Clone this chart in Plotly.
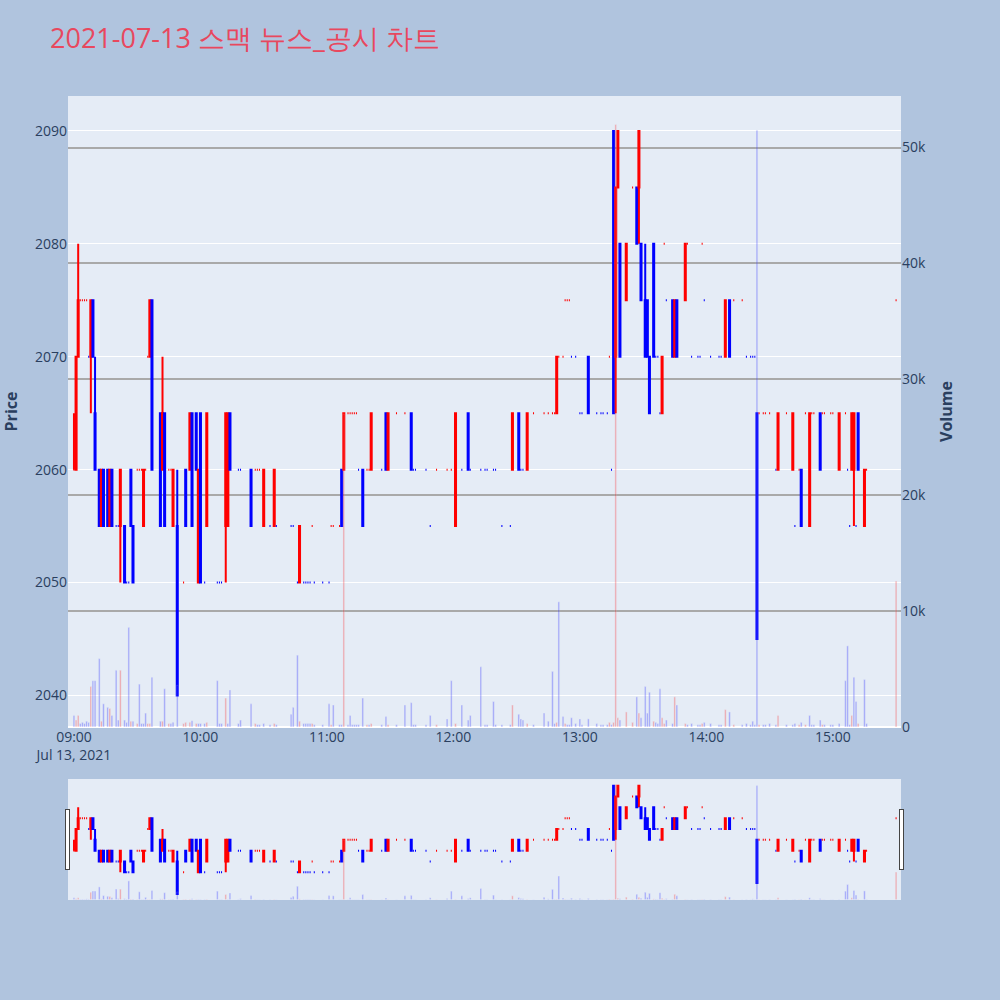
import pandas as pd
import plotly.graph_objects as go
from plotly.subplots import make_subplots

times = ["09:00","09:01","09:02","09:03","09:04","09:05","09:06","09:07","09:08","09:09",
         "09:10","09:12","09:13","09:14","09:16","09:17","09:18","09:20","09:21","09:22",
         "09:24","09:25","09:26","09:27","09:28","09:30","09:31","09:32","09:33","09:34",
         "09:35","09:36","09:37","09:41","09:42","09:43","09:45","09:46","09:47","09:49",
         "09:52","09:53","09:55","09:56","09:58","09:59","10:00","10:02","10:03","10:08",
         "10:09","10:10","10:12","10:13","10:14","10:18","10:19","10:24","10:26","10:27",
         "10:28","10:30","10:33","10:35","10:36","10:43","10:44","10:46","10:47","10:49",
         "10:50","10:51","10:52","10:53","10:54","10:58","11:01","11:02","11:03","11:06",
         "11:07","11:08","11:10","11:11","11:12","11:13","11:14","11:15","11:17","11:19",
         "11:20","11:21","11:26","11:28","11:29","11:33","11:37","11:40","11:41","11:42",
         "11:47","11:49","11:52","11:57","11:59","12:01","12:04","12:07","12:08","12:13",
         "12:15","12:16","12:19","12:20","12:23","12:27","12:28","12:31","12:32","12:33",
         "12:35","12:38","12:43","12:45","12:47","12:48","12:49","12:50","12:52","12:53",
         "12:54","12:55","12:56","12:58","13:00","13:01","13:04","13:08","13:10","13:11",
         "13:13","13:14","13:15","13:16","13:17","13:18","13:19","13:22","13:25","13:27",
         "13:28","13:29","13:31","13:32","13:33","13:35","13:36","13:37","13:38","13:39",
         "13:40","13:41","13:44","13:45","13:46","13:50","13:51","13:53","13:56","13:57",
         "13:58","13:59","14:02","14:06","14:07","14:09","14:11","14:13","14:17","14:19",
         "14:21","14:22","14:23","14:24","14:25","14:27","14:28","14:30","14:33","14:34",
         "14:38","14:41","14:42","14:44","14:45","14:47","14:49","14:50","14:51","14:54",
         "14:55","14:56","14:59","15:00","15:03","15:06","15:07","15:08","15:09","15:10",
         "15:11","15:12","15:15","15:16","15:30"]

opens = [2060,2060,2070,2075,2075,2075,2075,2070,2070,2075,
         2065,2060,2055,2060,2060,2055,2060,2055,2055,2055,
         2055,2050,2050,2060,2055,2060,2060,2060,2055,2060,
         2070,2070,2075,2065,2060,2065,2060,2060,2055,2055,
         2050,2060,2060,2065,2065,2050,2065,2050,2055,2050,
         2050,2050,2055,2055,2065,2060,2060,2060,2060,2060,
         2060,2055,2055,2055,2055,2055,2055,2050,2050,2050,
         2050,2050,2050,2055,2050,2050,2050,2055,2055,2055,
         2060,2060,2065,2065,2065,2065,2065,2060,2060,2060,
         2060,2060,2060,2065,2060,2065,2065,2065,2060,2060,
         2060,2055,2060,2060,2060,2055,2060,2065,2060,2060,
         2060,2060,2060,2060,2055,2055,2060,2065,2060,2060,
         2060,2065,2065,2065,2065,2065,2065,2070,2070,2075,
         2075,2075,2070,2070,2065,2065,2070,2065,2065,2065,
         2065,2070,2060,2090,2070,2085,2080,2075,2085,2085,
         2085,2080,2075,2075,2070,2080,2070,2070,2065,2065,
         2080,2075,2075,2070,2075,2075,2080,2070,2070,2070,
         2080,2075,2070,2070,2070,2070,2075,2075,2075,2070,
         2070,2070,2070,2065,2065,2065,2065,2065,2060,2060,
         2065,2060,2055,2060,2060,2065,2055,2065,2065,2065,
         2065,2065,2065,2065,2060,2065,2060,2055,2060,2060,
         2055,2065,2055,2060,2075]

highs = [2065,2070,2080,2075,2075,2075,2075,2070,2075,2075,
         2070,2060,2060,2060,2060,2060,2060,2055,2055,2060,
         2055,2050,2050,2060,2055,2060,2060,2060,2060,2060,
         2070,2075,2075,2065,2070,2065,2060,2060,2060,2060,
         2050,2060,2065,2065,2065,2060,2065,2050,2065,2050,
         2050,2050,2065,2065,2065,2060,2060,2060,2060,2060,
         2060,2060,2055,2060,2055,2055,2055,2050,2055,2050,
         2050,2050,2050,2055,2050,2050,2050,2055,2055,2055,
         2060,2065,2065,2065,2065,2065,2065,2060,2060,2060,
         2060,2065,2060,2065,2065,2065,2065,2065,2060,2060,
         2060,2055,2060,2060,2060,2065,2060,2065,2060,2060,
         2060,2060,2060,2060,2055,2055,2065,2065,2060,2060,
         2065,2065,2065,2065,2065,2065,2070,2070,2070,2075,
         2075,2075,2070,2070,2065,2065,2070,2065,2065,2065,
         2065,2070,2060,2090,2085,2090,2080,2080,2085,2085,
         2090,2080,2080,2075,2070,2080,2070,2070,2065,2070,
         2080,2075,2075,2075,2075,2080,2080,2070,2070,2070,
         2080,2075,2070,2070,2070,2075,2075,2075,2075,2070,
         2070,2070,2070,2065,2065,2065,2065,2065,2060,2065,
         2065,2065,2055,2060,2060,2065,2065,2065,2065,2065,
         2065,2065,2065,2065,2065,2065,2060,2055,2065,2065,
         2055,2065,2060,2060,2075]

lows = [2060,2060,2070,2075,2075,2075,2075,2070,2065,2070,
        2060,2055,2055,2055,2055,2055,2055,2055,2055,2050,
        2050,2050,2050,2055,2050,2060,2060,2060,2055,2060,
        2070,2070,2060,2055,2060,2055,2060,2060,2055,2040,
        2050,2055,2060,2055,2060,2050,2050,2050,2055,2050,
        2050,2050,2050,2055,2060,2060,2060,2055,2060,2060,
        2060,2055,2055,2055,2055,2055,2055,2050,2050,2050,
        2050,2050,2050,2055,2050,2050,2050,2055,2055,2055,
        2055,2060,2065,2065,2065,2065,2065,2060,2055,2060,
        2060,2060,2060,2060,2060,2065,2065,2060,2060,2060,
        2060,2055,2060,2060,2060,2055,2060,2060,2060,2060,
        2060,2060,2060,2060,2055,2055,2060,2060,2060,2060,
        2060,2065,2065,2065,2065,2065,2065,2070,2070,2075,
        2075,2075,2070,2070,2065,2065,2065,2065,2065,2065,
        2065,2070,2060,2065,2065,2085,2070,2075,2085,2080,
        2080,2075,2070,2070,2065,2070,2070,2070,2065,2065,
        2080,2075,2070,2070,2070,2075,2080,2070,2070,2070,
        2080,2075,2070,2070,2070,2070,2070,2075,2075,2070,
        2070,2070,2070,2045,2065,2065,2065,2065,2060,2060,
        2065,2060,2055,2060,2055,2065,2055,2065,2065,2060,
        2065,2065,2065,2065,2060,2065,2060,2055,2060,2055,
        2055,2060,2055,2060,2075]

closes = [2060,2070,2075,2075,2075,2075,2075,2070,2075,2070,
          2060,2055,2060,2055,2055,2060,2055,2055,2055,2060,
          2050,2050,2050,2055,2050,2060,2060,2060,2060,2060,
          2070,2075,2060,2055,2065,2055,2060,2060,2060,2040,
          2050,2055,2065,2055,2060,2060,2050,2050,2065,2050,
          2050,2050,2065,2065,2060,2060,2060,2055,2060,2060,
          2060,2060,2055,2060,2055,2055,2055,2050,2055,2050,
          2050,2050,2050,2055,2050,2050,2050,2055,2055,2055,
          2055,2065,2065,2065,2065,2065,2065,2060,2055,2060,
          2060,2065,2060,2060,2065,2065,2065,2060,2060,2060,
          2060,2055,2060,2060,2060,2065,2060,2060,2060,2060,
          2060,2060,2060,2060,2055,2055,2065,2060,2060,2060,
          2065,2065,2065,2065,2065,2065,2070,2070,2070,2075,
          2075,2075,2070,2070,2065,2065,2065,2065,2065,2065,
          2065,2070,2060,2065,2085,2090,2070,2080,2085,2080,
          2090,2075,2070,2070,2065,2070,2070,2070,2065,2070,
          2080,2075,2070,2075,2070,2080,2080,2070,2070,2070,
          2080,2075,2070,2070,2070,2075,2070,2075,2075,2070,
          2070,2070,2070,2045,2065,2065,2065,2065,2060,2065,
          2065,2065,2055,2060,2055,2065,2065,2065,2065,2060,
          2065,2065,2065,2065,2065,2065,2060,2055,2065,2065,
          2055,2060,2060,2060,2075]

volumes = [1000,600,1000,300,400,300,500,400,3500,4000,
           4000,5900,500,2000,1700,1600,1000,4900,600,4900,
           600,400,8600,500,500,300,3700,300,300,1200,
           300,300,4300,500,500,3300,300,300,400,3600,
           300,400,400,550,300,300,300,300,400,4000,
           300,300,2500,300,3200,300,600,2000,300,200,
           200,300,200,300,200,1100,1700,6200,500,300,
           300,300,300,300,200,200,2000,200,1900,200,
           200,27000,200,1000,200,200,200,200,2500,200,
           200,300,200,900,200,200,1900,2100,200,200,
           200,1000,200,700,4000,300,1900,600,1000,5200,
           200,200,2200,200,200,200,1900,1100,700,600,
           300,200,1200,500,4800,300,400,10800,900,300,
           200,200,800,300,700,200,700,300,200,200,
           200,400,200,400,52000,800,600,1300,400,2600,
           1200,800,3500,1200,3000,500,400,300,3300,800,
           300,600,300,2600,1900,300,200,300,200,200,
           300,400,300,200,200,1500,1300,200,200,300,
           200,500,200,51500,200,200,200,300,200,1000,
           200,200,300,200,400,200,1000,200,200,600,
           200,200,200,200,300,4000,7000,200,1000,4300,
           2200,300,4100,300,12600]

x = pd.to_datetime(["2021-07-13 " + t for t in times])

vol_colors = []
prev = None
for c in closes:
    vol_colors.append("red" if (prev is not None and c > prev) else "blue")
    prev = c

fig = make_subplots(specs=[[{"secondary_y": True}]])
fig.add_trace(go.Candlestick(x=x, open=opens, high=highs, low=lows, close=closes,
                             increasing_line_color="red", decreasing_line_color="blue",
                             name="가격"), secondary_y=False)
fig.add_trace(go.Bar(x=x, y=volumes, marker_color=vol_colors, opacity=0.3,
                     name="거래량"), secondary_y=True)

x_range = ["2021-07-13 08:57:10", "2021-07-13 15:32:20"]

fig.update_layout(
    width=1000, height=1000,
    font=dict(size=14),
    title=dict(text="2021-07-13 스맥 뉴스_공시 차트", font=dict(size=27, color="#E8485E")),
    paper_bgcolor="#B0C4DE",
    showlegend=False,
    margin=dict(l=68, r=99, t=96, b=100),
)
fig.update_xaxes(domain=[0, 1], range=x_range, rangeslider=dict(visible=True, range=x_range))
fig.update_yaxes(title=dict(text="<b>Price</b>", font=dict(size=16)), secondary_y=False,
                 automargin=False, range=[2037.2, 2093.1])
fig.update_yaxes(title=dict(text="<b>Volume</b>", font=dict(size=16)), secondary_y=True,
                 showgrid=True, gridcolor="darkgray", gridwidth=2, automargin=False,
                 range=[0, 54450])
fig.write_html("out.html", config={"displayModeBar": False},
               post_script="document.body.style.margin='0';")
